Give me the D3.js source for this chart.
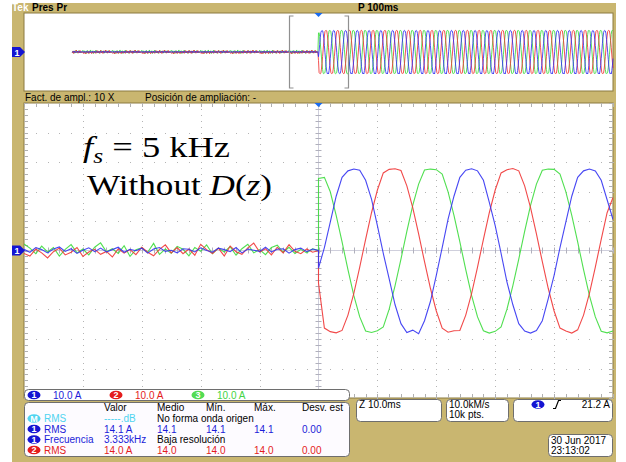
<!DOCTYPE html>
<html>
<head>
<meta charset="utf-8">
<script src="https://cdn.jsdelivr.net/npm/d3@7"></script>
<style>
  body { margin: 0; background: #fff; }
  svg { display: block; }
  text { font-family: "Liberation Sans", Arial, sans-serif; font-size: 10px; }
</style>
</head>
<body>
<div id="chart"></div>
<script>
// sample step is 1 ms, values in A (10 A/div)
var preStart = -50;   // main window starts at -50 ms
var thumbStart = -418; // record start seen in the overview

// pre-trigger noise, t = -50 .. 0 ms
var preBlue = [0.4,-0.6,1.0,0.3,-0.8,0.5,1.2,-0.3,0.6,-1.0,0.1,0.9,-0.4,0.8,-0.5,0.3,1.1,-0.6,0.4,-0.1,0.8,-0.9,0.5,1.0,-0.3,0.1,-0.8,0.6,0.4,-0.5,0.9,0.0,-0.6,0.8,0.3,-0.4,1.0,-0.8,0.5,0.1,-0.3,1.1,-0.5,0.4,0.6,-0.9,0.3,0.8,-0.4,0.5,0.0];
var preRed = [-1.0,-1.9,0.5,-0.8,-2.5,-0.4,0.8,-1.5,-0.6,1.0,-2.0,-0.5,0.4,-1.3,-0.3,-2.2,0.6,-0.9,0.3,-1.4,1.1,-0.6,-1.8,0.4,1.9,-0.8,1.0,-1.1,0.5,-1.6,2.1,0.3,-1.0,0.8,-1.9,1.5,-0.4,-1.3,0.9,2.5,-0.5,0.6,-1.5,1.1,-0.8,2.0,-0.3,-1.1,0.5,-0.6,0.0];
var preGreen = [2.2,0.8,-1.1,1.5,-0.5,1.0,-1.9,0.4,2.0,-0.8,0.5,-1.5,1.1,2.6,-0.4,0.6,-1.0,1.6,-2.0,0.3,0.9,-0.6,2.4,-1.3,0.5,-0.9,1.4,0.4,-1.8,1.0,-0.3,1.9,-1.1,0.8,-0.5,1.3,-1.6,0.6,2.1,-0.8,0.3,-1.4,1.0,1.8,-0.6,1.1,-1.0,0.4,-0.8,0.6,0.0];

// after the trigger, t = 0 .. 50 ms
var postBlue = [-6.0,1.0,9.6,18.4,24.8,27.0,27.6,27.2,23.8,17.4,8.4,-1.0,-9.6,-18.4,-24.8,-27.8,-27.0,-28.2,-23.8,-17.3,-8.4,1.0,10.6,18.4,24.8,27.2,27.7,27.0,23.8,16.3,8.4,-1.0,-10.7,-18.4,-24.8,-27.3,-28.0,-27.1,-23.8,-16.4,-8.4,1.0,9.7,18.4,24.8,27.0,27.6,27.0,23.8,17.2,10.5];
var postRed = [-11.0,-26.3,-27.5,-27.9,-27.1,-21.9,-14.5,-5.6,3.8,12.8,20.5,26.3,27.5,27.7,27.1,21.9,14.5,5.6,-3.8,-12.8,-20.5,-26.3,-27.7,-27.2,-27.1,-21.9,-14.5,-5.6,3.8,12.8,20.5,26.3,27.4,27.8,27.0,21.9,14.5,5.6,-3.8,-12.8,-20.5,-26.3,-27.3,-28.0,-26.9,-21.9,-14.5,-5.6,3.8,12.8,18.0];
var postGreen = [24.4,24.8,19.9,11.9,2.9,-6.5,-15.3,-22.5,-27.3,-27.8,-27.2,-25.9,-19.9,-11.9,-2.9,6.5,15.3,22.5,27.3,27.6,27.4,25.9,19.9,11.9,2.9,-6.5,-15.3,-22.5,-27.2,-28.0,-27.4,-25.9,-19.9,-11.9,-2.9,6.5,15.3,22.5,27.2,27.6,27.5,25.9,19.9,11.9,2.9,-6.5,-15.3,-22.5,-27.4,-27.9,-27.3];

var chanLabels = ["1", "2", "3"];
var chanScales = ["10.0 A", "10.0 A", "10.0 A"];

var measHeaders = ["Valor", "Medio", "Mín.", "Máx.", "Desv. est"];
var measBadges = ["M", "1", "1", "2"];
var measNames = ["RMS", "RMS", "Frecuencia", "RMS"];
var measCells = [
  ["-----.dB", "No forma onda origen"],
  ["14.1 A", "14.1", "14.1", "14.1", "0.00"],
  ["3.333kHz", "Baja resolución"],
  ["14.0 A", "14.0", "14.0", "14.0", "0.00"]
];

var khaki = "#c9b670", edge = "#8b7a40";
var blue = "#3333f2", red = "#f03535", green = "#3ddc3d", cyan = "#50d4f0";
var badgeCol = { "M": cyan, "1": "#1414d2", "2": "#e41c1c", "3": "#52dc52" };
var textCol = { "M": cyan, "1": "#1c1cd8", "2": "#e41c1c", "3": "#44d444" };

var svg = d3.select("#chart").append("svg")
    .attr("width", 626)
    .attr("height", 462);

svg.append("rect").attr("x", 12).attr("y", 3).attr("width", 604).attr("height", 459).attr("fill", khaki);

var xMain = d3.scaleLinear().domain([-50, 50]).range([24, 613]);
var yMain = d3.scaleLinear().domain([-50, 50]).range([398, 103]);
var xThumb = d3.scaleLinear().domain([-500, 500]).range([24, 613]);
var yThumb = d3.scaleLinear().domain([-50, 50]).range([91, 13]);

// plot frames
svg.append("rect").attr("x", 24).attr("y", 13).attr("width", 589).attr("height", 78)
   .attr("fill", "#fff").attr("stroke", edge);
svg.append("rect").attr("x", 24).attr("y", 103).attr("width", 589).attr("height", 295)
   .attr("fill", "#fff").attr("stroke", edge);

// graticule
var grid = svg.append("g");
var minorT = d3.range(-50, 51, 2);
var minorA = d3.range(-50, 51, 2);
var majorT = d3.range(-40, 41, 10).filter(function(d) { return d !== 0; });
var majorA = d3.range(-40, 41, 10).filter(function(d) { return d !== 0; });

majorT.forEach(function(t) {
  minorA.forEach(function(a) {
    grid.append("rect").attr("x", Math.round(xMain(t))).attr("y", Math.round(yMain(a)))
        .attr("width", 1).attr("height", 1).attr("fill", "#b4b4b4");
  });
});
majorA.forEach(function(a) {
  minorT.forEach(function(t) {
    grid.append("rect").attr("x", Math.round(xMain(t))).attr("y", Math.round(yMain(a)))
        .attr("width", 1).attr("height", 1).attr("fill", "#b4b4b4");
  });
});

grid.append("line").attr("x1", 24).attr("x2", 613).attr("y1", yMain(0)).attr("y2", yMain(0))
    .attr("stroke", "#cfcfdc");
grid.append("line").attr("x1", xMain(0)).attr("x2", xMain(0)).attr("y1", 103).attr("y2", 398)
    .attr("stroke", "#cfcfdc");

minorT.forEach(function(t) {
  var x = Math.round(xMain(t)) + 0.5;
  grid.append("line").attr("x1", x).attr("x2", x).attr("y1", yMain(0) - 3).attr("y2", yMain(0) + 3).attr("stroke", "#b0b0bc");
  grid.append("line").attr("x1", x).attr("x2", x).attr("y1", 103).attr("y2", 107).attr("stroke", "#b0b0b0");
  grid.append("line").attr("x1", x).attr("x2", x).attr("y1", 394).attr("y2", 398).attr("stroke", "#b0b0b0");
});
minorA.forEach(function(a) {
  var y = Math.round(yMain(a)) + 0.5;
  grid.append("line").attr("x1", xMain(0) - 3).attr("x2", xMain(0) + 3).attr("y1", y).attr("y2", y).attr("stroke", "#b0b0bc");
  grid.append("line").attr("x1", 24).attr("x2", 28).attr("y1", y).attr("y2", y).attr("stroke", "#b0b0b0");
  grid.append("line").attr("x1", 609).attr("x2", 613).attr("y1", y).attr("y2", y).attr("stroke", "#b0b0b0");
});

// main traces
function mainPoints(pre, post) {
  var pts = pre.map(function(v, i) { return [preStart + i, v]; });
  return pts.concat(post.map(function(v, i) { return [i, v]; }));
}
var mainLine = d3.line()
    .x(function(d) { return xMain(d[0]); })
    .y(function(d) { return yMain(d[1]); });

var traces = [
  { pre: preGreen, post: postGreen, color: green },
  { pre: preRed, post: postRed, color: red },
  { pre: preBlue, post: postBlue, color: blue }
];

svg.append("defs").append("clipPath").attr("id", "mainClip")
   .append("rect").attr("x", 24).attr("y", 103).attr("width", 589).attr("height", 295);

svg.append("g").attr("clip-path", "url(#mainClip)")
   .selectAll("path")
   .data(traces)
   .enter()
   .append("path")
   .attr("d", function(d) { return mainLine(mainPoints(d.pre, d.post)); })
   .attr("fill", "none")
   .attr("stroke", function(d) { return d.color; })
   .attr("stroke-width", 1.1)
   .attr("stroke-opacity", 0.9);

// overview: the recorded cycle repeats after the first 50 ms
function thumbPoints(pre, post) {
  var pts = [];
  for (var t = thumbStart; t <= 500; t++) {
    var v;
    if (t < 0) v = pre[((t % 50) + 50) % 50];
    else if (t <= 50) v = post[t];
    else v = post[10 + ((t - 10) % 20)];
    pts.push([t, v]);
  }
  return pts;
}
var thumbLine = d3.line()
    .x(function(d) { return xThumb(d[0]); })
    .y(function(d) { return yThumb(d[1]); });

svg.append("g")
   .selectAll("path")
   .data(traces)
   .enter()
   .append("path")
   .attr("d", function(d) { return thumbLine(thumbPoints(d.pre, d.post)); })
   .attr("fill", "none")
   .attr("stroke", function(d) { return d.color; })
   .attr("stroke-width", 1)
   .attr("stroke-opacity", 0.85);

// zoom bracket in overview
var bx0 = Math.round(xThumb(-50)) + 0.5, bx1 = Math.round(xThumb(50)) + 0.5;
svg.append("path")
   .attr("d", "M" + (bx0 + 4) + ",16H" + bx0 + "V88H" + (bx0 + 4))
   .attr("fill", "none").attr("stroke", "#909090").attr("stroke-width", 1.2);
svg.append("path")
   .attr("d", "M" + (bx1 - 4) + ",16H" + bx1 + "V88H" + (bx1 - 4))
   .attr("fill", "none").attr("stroke", "#909090").attr("stroke-width", 1.2);

// trigger markers
[[xThumb(0), 13], [xMain(0), 103]].forEach(function(p) {
  svg.append("path")
     .attr("d", "M" + (p[0] - 4) + "," + p[1] + "L" + (p[0] + 4) + "," + p[1] + "L" + p[0] + "," + (p[1] + 4) + "Z")
     .attr("fill", "#1a6cf0");
});

// channel 1 ground tags
[yThumb(0), yMain(0)].forEach(function(y) {
  svg.append("path")
     .attr("d", "M12," + (y - 5) + "H20L25," + y + "L20," + (y + 5) + "H12Z")
     .attr("fill", "#1414d2");
  svg.append("text").attr("x", 17).attr("y", y + 3.5).attr("text-anchor", "middle")
     .attr("fill", "#fff").attr("font-weight", "bold").style("font-size", "9px").text("1");
});

// header texts
svg.append("text").attr("x", 12).attr("y", 11).attr("fill", "#fff").attr("font-weight", "bold").text("Tek");
svg.append("text").attr("x", 32).attr("y", 11).attr("font-weight", "bold").text("Pres Pr");
svg.append("text").attr("x", 358).attr("y", 11).attr("font-weight", "bold").text("P 100ms");
svg.append("text").attr("x", 25).attr("y", 101).text("Fact. de ampl.: 10 X");
svg.append("text").attr("x", 145).attr("y", 101).text("Posición de ampliación: -");

// annotation
var serif = "'Liberation Serif', 'DejaVu Serif', serif";
var t1 = svg.append("text").attr("x", 83).attr("y", 157)
    .style("font-family", serif).style("font-size", "30px")
    .attr("textLength", 147).attr("lengthAdjust", "spacingAndGlyphs");
t1.append("tspan").style("font-style", "italic").text("f");
t1.append("tspan").style("font-style", "italic").style("font-size", "21px").attr("dy", 6).text("s");
t1.append("tspan").attr("dy", -6).text(" = 5 kHz");

var t2 = svg.append("text").attr("x", 87).attr("y", 195)
    .style("font-family", serif).style("font-size", "30px")
    .attr("textLength", 185).attr("lengthAdjust", "spacingAndGlyphs");
t2.append("tspan").text("Without ");
t2.append("tspan").style("font-style", "italic").text("D");
t2.append("tspan").text("(");
t2.append("tspan").style("font-style", "italic").text("z");
t2.append("tspan").text(")");

// badges
function badge(x, y, label) {
  svg.append("ellipse").attr("cx", x).attr("cy", y).attr("rx", 6.5).attr("ry", 4.3)
     .attr("fill", badgeCol[label]);
  svg.append("text").attr("x", x).attr("y", y + 3.3).attr("text-anchor", "middle")
     .attr("fill", "#fff").attr("font-weight", "bold").style("font-size", "9px").text(label);
}

// channel scale box
svg.append("rect").attr("x", 24.5).attr("y", 389.5).attr("width", 325).attr("height", 11)
   .attr("rx", 4).attr("fill", "#fff").attr("stroke", "#6e6e6e");
var chanX = [34, 116, 198];
chanLabels.forEach(function(c, i) {
  badge(chanX[i], 395, c);
  svg.append("text").attr("x", chanX[i] + 19).attr("y", 398.5)
     .attr("fill", textCol[c]).text(chanScales[i]);
});

// measurement box
svg.append("rect").attr("x", 24.5).attr("y", 402.5).attr("width", 325).attr("height", 54)
   .attr("rx", 4).attr("fill", "#fdfbff").attr("stroke", "#6e6e6e");
var colX = [104, 157, 206, 254, 302];
measHeaders.forEach(function(h, i) {
  svg.append("text").attr("x", colX[i]).attr("y", 411).text(h);
});
var rowY = [422, 432.5, 443, 453.5];
measBadges.forEach(function(b, r) {
  badge(34, rowY[r] - 3.5, b);
  svg.append("text").attr("x", 44).attr("y", rowY[r]).attr("fill", textCol[b]).text(measNames[r]);
  measCells[r].forEach(function(c, i) {
    var col = textCol[b];
    if (measCells[r].length === 2 && i === 1) col = "#000";
    svg.append("text").attr("x", colX[i]).attr("y", rowY[r]).attr("fill", col).text(c);
  });
});

// right side boxes
function box(x, y, w, h) {
  svg.append("rect").attr("x", x + 0.5).attr("y", y + 0.5).attr("width", w).attr("height", h)
     .attr("rx", 4).attr("fill", "#fff").attr("stroke", "#6e6e6e");
}
box(356, 399, 85, 22);
svg.append("text").attr("x", 359).attr("y", 408).text("Z 10.0ms");
box(446, 399, 62, 22);
svg.append("text").attr("x", 449).attr("y", 408).text("10.0kM/s");
svg.append("text").attr("x", 449).attr("y", 418).text("10k pts.");
box(513, 399, 99, 22);
badge(538, 404.5, "1");
svg.append("path").attr("d", "M553,408.5H555.5L558.5,400.5H561")
   .attr("fill", "none").attr("stroke", "#000").attr("stroke-width", 1.2);
svg.append("text").attr("x", 610).attr("y", 408).attr("text-anchor", "end").text("21.2 A");
box(548, 434, 64, 22);
svg.append("text").attr("x", 551).attr("y", 444).text("30 Jun 2017");
svg.append("text").attr("x", 551).attr("y", 454).text("23:13:02");
</script>
</body>
</html>
